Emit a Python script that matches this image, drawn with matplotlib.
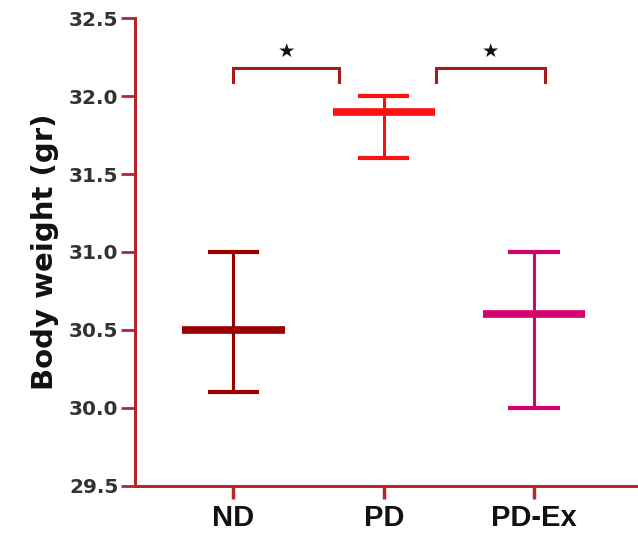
import matplotlib.pyplot as plt
import numpy as np

# group data
groups = ["ND", "PD", "PD-Ex"]
means = [30.5, 31.9, 30.6]
upper = [31.0, 32.0, 31.0]
lower = [30.1, 31.6, 30.0]
colors = ["#9b0000", "#ff1010", "#d4006e"]

# significance brackets (from, to, height) and labels
brackets = [(0.0, 0.7, 32.18), (1.35, 2.07, 32.18)]
sig_labels = ["★", "★"]

axis_col = "#b8262c"

fig = plt.figure(figsize=(6.38, 5.35), dpi=100)
ax = fig.add_axes([0.212, 0.092, 0.79, 0.874])

x = np.arange(len(groups))
mean_hw = 0.34
cap_hw = 0.17
for i in x:
    c = colors[i]
    ax.vlines(i, lower[i], upper[i], color=c, lw=2.2)
    ax.hlines([lower[i], upper[i]], i - cap_hw, i + cap_hw, color=c, lw=3)
    ax.hlines(means[i], i - mean_hw, i + mean_hw, color=c, lw=5.5)

for (x0, x1, h), lab in zip(brackets, sig_labels):
    ax.plot([x0, x0, x1, x1], [h - 0.09, h, h, h - 0.09], color="#a11c1c", lw=2.2,
            solid_joinstyle="miter")
    ax.text((x0 + x1) / 2, h + 0.045, lab, ha="center", va="bottom",
            fontsize=14, color="#111111")

ax.set_xlim(-0.653, 2.70)
ax.set_ylim(29.5, 32.5)
ax.set_yticks(np.arange(29.5, 32.51, 0.5))
ax.set_yticklabels([f"{v:.1f}" for v in np.arange(29.5, 32.51, 0.5)],
                   fontfamily="DejaVu Sans", fontweight="bold", fontsize=14.5,
                   color="#333333")
ax.set_xticks(x)
ax.set_xticklabels(groups, fontfamily="Liberation Sans", fontweight="bold",
                   fontsize=21, color="#111111")
ax.set_ylabel("Body weight (gr)", fontfamily="DejaVu Sans", fontweight="bold",
              fontsize=21, color="#111111", labelpad=7)

for s in ["top", "right"]:
    ax.spines[s].set_visible(False)
for s in ["left", "bottom"]:
    ax.spines[s].set_color(axis_col)
    ax.spines[s].set_linewidth(2.2)
ax.tick_params(axis="y", length=10, width=2, color=axis_col, pad=2)
ax.tick_params(axis="x", length=9, width=2.5, color=axis_col, pad=4)

fig.savefig("out.png", dpi=100)
